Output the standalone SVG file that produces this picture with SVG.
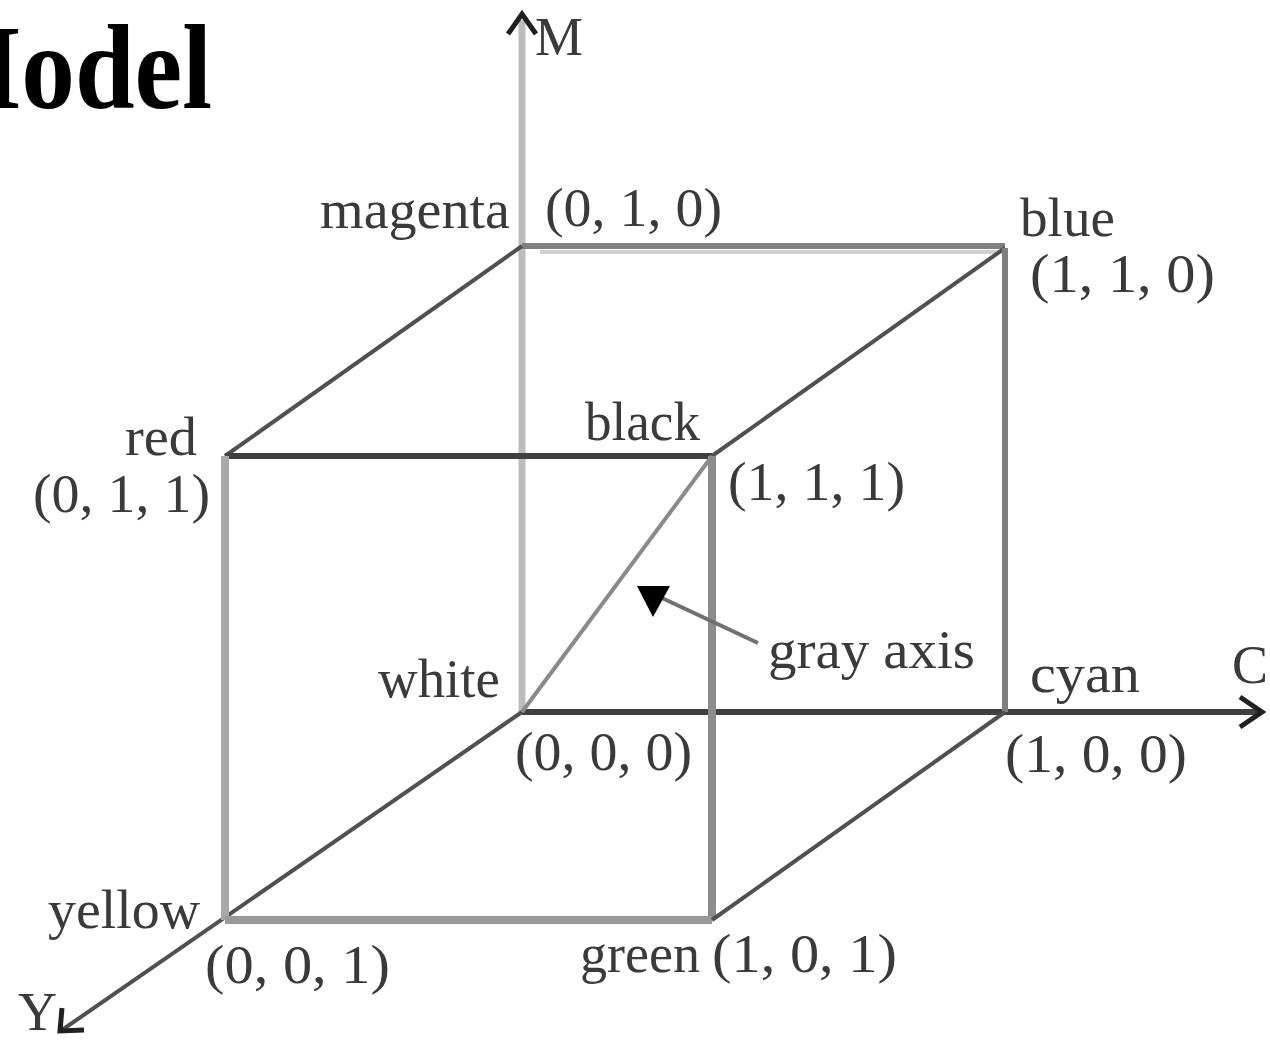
<svg xmlns="http://www.w3.org/2000/svg" width="1270" height="1042" viewBox="0 0 1270 1042">
<style>
.t{font-family:"Liberation Serif","Times New Roman",serif;font-size:54px;fill:#3a3a3a}
.title{font-family:"Liberation Serif","Times New Roman",serif;font-size:120px;font-weight:bold;fill:#000}
.dk{stroke:#404040;stroke-width:6;fill:none}
.md{stroke:#808080;stroke-width:6;fill:none}
.lt{stroke:#bdbdbd;stroke-width:7;fill:none}
.dg{stroke:#505050;stroke-width:4;fill:none}
</style>
<rect width="1270" height="1042" fill="#fff"/>
<text class="title" x="-80" y="108" textLength="292" lengthAdjust="spacingAndGlyphs">Model</text>
<g id="connectors">
<line class="lt" x1="522" y1="712" x2="522" y2="20"/>
<path d="M508,34 L522,14 L536,34" fill="none" stroke="#202020" stroke-width="5"/>
<line class="dk" x1="522" y1="712" x2="1260" y2="712"/>
<path d="M1240,697 L1262,712 L1240,727" fill="none" stroke="#202020" stroke-width="5"/>
<line class="dg" x1="522" y1="712" x2="62" y2="1030"/>
<path d="M62,1008 L60,1031 L84,1030" fill="none" stroke="#202020" stroke-width="5"/>
<line class="md" x1="522" y1="246" x2="1005" y2="246"/>
<line x1="540" y1="252" x2="1000" y2="252" stroke="#d0d0d0" stroke-width="4"/>
<line class="dg" x1="522" y1="246" x2="225" y2="456"/>
<line class="dg" x1="1005" y1="248" x2="712" y2="456"/>
<line class="md" x1="1005" y1="248" x2="1005" y2="712"/>
<line class="dk" x1="225" y1="456" x2="712" y2="456"/>
<line x1="225" y1="456" x2="225" y2="920" stroke="#a8a8a8" stroke-width="8"/>
<line x1="712" y1="456" x2="712" y2="920" stroke="#8c8c8c" stroke-width="8"/>
<line x1="225" y1="920" x2="712" y2="920" stroke="#999" stroke-width="8"/>
<line class="dg" x1="712" y1="920" x2="1005" y2="712"/>
<line x1="522" y1="712" x2="712" y2="456" stroke="#8a8a8a" stroke-width="4"/>
<line x1="758" y1="643" x2="662" y2="598" stroke="#707070" stroke-width="4"/>
<polygon points="637,586 670,586 653,617" fill="#000"/>
</g>
<g id="axis-labels">
<text class="t" x="535" y="55" font-size="40">M</text>
<text class="t" x="1232" y="683" font-size="36">C</text>
<text class="t" x="18" y="1030" font-size="40">Y</text>
</g>
<g id="node-magenta"><text class="t" x="320" y="228" textLength="190" lengthAdjust="spacingAndGlyphs">magenta</text><text class="t" x="545" y="226" textLength="177" lengthAdjust="spacingAndGlyphs">(0, 1, 0)</text></g>
<g id="node-blue"><text class="t" x="1020" y="236" textLength="95" lengthAdjust="spacingAndGlyphs">blue</text><text class="t" x="1030" y="292" textLength="185" lengthAdjust="spacingAndGlyphs">(1, 1, 0)</text></g>
<g id="node-red"><text class="t" x="125" y="455" textLength="72" lengthAdjust="spacingAndGlyphs">red</text><text class="t" x="33" y="512" textLength="177" lengthAdjust="spacingAndGlyphs">(0, 1, 1)</text></g>
<g id="node-black"><text class="t" x="585" y="440" textLength="115" lengthAdjust="spacingAndGlyphs">black</text><text class="t" x="728" y="500" textLength="177" lengthAdjust="spacingAndGlyphs">(1, 1, 1)</text></g>
<g id="node-white"><text class="t" x="378" y="697" textLength="122" lengthAdjust="spacingAndGlyphs">white</text><text class="t" x="515" y="770" textLength="177" lengthAdjust="spacingAndGlyphs">(0, 0, 0)</text></g>
<g id="node-gray-axis"><text class="t" x="768" y="668" textLength="207" lengthAdjust="spacingAndGlyphs">gray axis</text></g>
<g id="node-cyan"><text class="t" x="1030" y="692" textLength="110" lengthAdjust="spacingAndGlyphs">cyan</text><text class="t" x="1005" y="772" textLength="182" lengthAdjust="spacingAndGlyphs">(1, 0, 0)</text></g>
<g id="node-yellow"><text class="t" x="48" y="928" textLength="152" lengthAdjust="spacingAndGlyphs">yellow</text><text class="t" x="205" y="983" textLength="185" lengthAdjust="spacingAndGlyphs">(0, 0, 1)</text></g>
<g id="node-green"><text class="t" x="580" y="972" textLength="120" lengthAdjust="spacingAndGlyphs">green</text><text class="t" x="712" y="972" textLength="185" lengthAdjust="spacingAndGlyphs">(1, 0, 1)</text></g>
</svg>
